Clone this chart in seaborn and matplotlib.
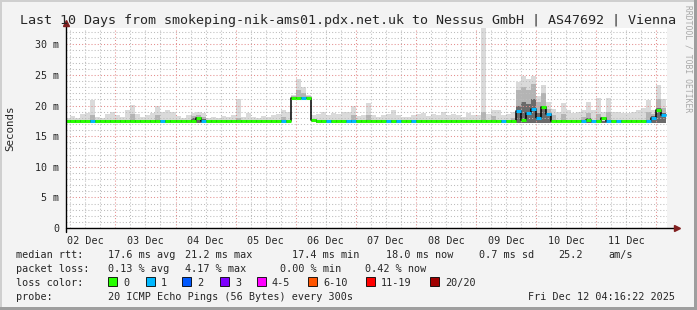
import numpy as np
import pandas as pd
import matplotlib
matplotlib.use("Agg")
import matplotlib.pyplot as plt
from matplotlib.patches import Rectangle
from matplotlib.ticker import MultipleLocator
import seaborn as sns

# ------------------------------------------------------------------ data
title = "Last 10 Days from smokeping-nik-ams01.pdx.net.uk to Nessus GmbH | AS47692 | Vienna"
day_labels = ["02 Dec", "03 Dec", "04 Dec", "05 Dec", "06 Dec",
              "07 Dec", "08 Dec", "09 Dec", "10 Dec", "11 Dec"]
y_tick_values = [0, 5, 10, 15, 20, 25, 30]
y_tick_labels = ["0", "5 m", "10 m", "15 m", "20 m", "25 m", "30 m"]

# time base: hours since 02 Dec 00:00; 2-hour samples from 02 Dec 04:00
sample_start_h = 4.0
sample_step_h = 2.0
view_start_h = 4.27      # Dec 2 04:16
view_end_h = 244.27      # Dec 12 04:16
y_top = 32.66

median_ms = [
    17.4, 17.4, 17.4, 17.4, 17.4, 17.4, 17.4, 17.4, 17.4, 17.4,
    17.4, 17.4, 17.4, 17.4, 17.4, 17.4, 17.4, 17.4, 17.4, 17.4, 17.4, 17.4,
    17.4, 17.4, 17.4, 17.4, 17.9, 17.5, 17.4, 17.4, 17.4, 17.4, 17.4, 17.4,
    17.4, 17.4, 17.4, 17.4, 17.4, 17.4, 17.4, 17.4, 17.4, 17.4, 17.4, 21.2,
    21.2, 21.2, 21.2, 17.6, 17.4, 17.4, 17.4, 17.4, 17.4, 17.4, 17.4, 17.4,
    17.4, 17.4, 17.4, 17.4, 17.4, 17.4, 17.4, 17.4, 17.4, 17.4, 17.4, 17.4,
    17.4, 17.4, 17.4, 17.4, 17.4, 17.4, 17.4, 17.4, 17.4, 17.4, 17.4, 17.4,
    17.4, 17.4, 17.4, 17.4, 17.4, 17.4, 17.4, 17.4, 19.1, 17.7, 18.7, 19.5,
    17.9, 19.8, 18.6, 17.4, 17.4, 17.4, 17.4, 17.4, 17.4, 17.4, 17.7, 17.4,
    17.4, 17.9, 17.4, 17.4, 17.4, 17.4, 17.4, 17.4, 17.4, 17.4, 17.4, 18.0,
    19.2, 18.4,
]

loss_count = [
    0, 0, 0, 0, 0, 1, 0, 0, 0, 0,
    0, 0, 0, 0, 0, 0, 0, 0, 0, 1, 0, 0,
    0, 0, 0, 0, 0, 1, 0, 0, 0, 0, 0, 0,
    0, 0, 0, 0, 0, 0, 0, 0, 0, 1, 0, 0,
    0, 1, 0, 0, 0, 0, 1, 0, 0, 0, 1, 1,
    0, 0, 0, 0, 0, 0, 1, 0, 1, 0, 0, 1,
    0, 0, 0, 0, 0, 0, 0, 0, 0, 0, 0, 0,
    0, 0, 0, 0, 0, 1, 0, 0, 1, 0, 1, 1,
    1, 0, 1, 0, 0, 0, 0, 0, 0, 1, 0, 1,
    0, 0, 1, 0, 1, 0, 0, 0, 0, 0, 1, 1,
    0, 1,
]

smoke_lo = [
    17.2, 17.2, 17.2, 17.2, 17.2, 17.2, 17.2, 17.2, 17.2, 17.2,
    17.2, 17.2, 17.2, 17.2, 17.2, 17.2, 17.2, 17.2, 17.2, 17.2, 17.2, 17.2,
    17.2, 17.2, 17.2, 17.2, 17.2, 17.2, 17.2, 17.2, 17.2, 17.2, 17.2, 17.2,
    17.2, 17.2, 17.2, 17.2, 17.2, 17.2, 17.2, 17.2, 17.2, 17.2, 17.2, 21.0,
    21.0, 21.0, 21.0, 17.3, 17.2, 17.2, 17.2, 17.2, 17.2, 17.2, 17.2, 17.2,
    17.2, 17.2, 17.2, 17.2, 17.2, 17.2, 17.2, 17.2, 17.2, 17.2, 17.2, 17.2,
    17.2, 17.2, 17.2, 17.2, 17.2, 17.2, 17.2, 17.2, 17.2, 17.2, 17.2, 17.2,
    17.2, 17.2, 17.2, 17.2, 17.2, 17.2, 17.2, 17.2, 17.2, 17.2, 17.2, 17.2,
    17.2, 17.2, 17.2, 17.2, 17.2, 17.2, 17.2, 17.2, 17.2, 17.2, 17.2, 17.2,
    17.2, 17.2, 17.2, 17.2, 17.2, 17.2, 17.2, 17.2, 17.2, 17.2, 17.2, 17.2,
    17.2, 17.2,
]

smoke_core = [
    17.4, 17.4, 17.4, 17.4, 17.4, 17.4, 17.4, 17.4, 17.4, 17.4,
    17.4, 17.4, 17.4, 17.4, 17.4, 17.4, 17.4, 17.4, 17.4, 17.4, 17.4, 17.4,
    17.4, 17.4, 17.4, 17.9, 18.2, 17.8, 17.4, 17.4, 17.4, 17.4, 17.4, 17.4,
    17.4, 17.4, 17.4, 17.4, 17.4, 17.4, 17.4, 17.4, 17.4, 17.4, 17.4, 21.3,
    21.3, 21.3, 21.3, 17.6, 17.4, 17.4, 17.4, 17.4, 17.4, 17.4, 17.4, 17.4,
    17.4, 17.4, 17.4, 17.4, 17.4, 17.4, 17.4, 17.4, 17.4, 17.4, 17.4, 17.4,
    17.4, 17.4, 17.4, 17.4, 17.4, 17.4, 17.4, 17.4, 17.4, 17.4, 17.4, 17.4,
    17.4, 17.4, 17.4, 17.4, 17.4, 17.4, 17.4, 17.4, 20.0, 20.5, 20.3, 21.0,
    18.8, 20.0, 18.6, 17.4, 17.4, 17.4, 17.4, 17.4, 17.4, 17.4, 18.0, 17.4,
    17.4, 17.4, 17.4, 17.4, 17.4, 17.4, 17.4, 17.4, 17.4, 17.4, 17.4, 18.3,
    19.6, 18.8,
]

smoke_mid = [
    17.5, 17.5, 17.5, 17.5, 17.5, 18.5, 17.5, 17.5, 17.5, 17.5,
    17.5, 17.5, 17.5, 18.6, 17.5, 17.5, 17.5, 17.5, 18.5, 17.5, 17.5, 17.5,
    17.5, 17.5, 17.5, 18.3, 18.5, 18.2, 17.5, 17.5, 17.5, 17.5, 17.5, 17.5,
    18.0, 17.5, 17.5, 17.5, 17.5, 17.5, 17.5, 17.5, 17.5, 18.2, 17.5, 21.5,
    22.5, 22.0, 21.5, 17.8, 17.5, 17.5, 17.5, 17.5, 17.5, 17.5, 17.5, 18.5,
    17.5, 17.5, 18.5, 17.5, 17.5, 17.5, 17.5, 17.5, 17.5, 17.5, 17.5, 17.5,
    17.5, 17.5, 17.5, 17.5, 17.5, 17.5, 17.5, 17.5, 17.5, 17.5, 17.5, 17.5,
    17.5, 19.0, 17.5, 18.3, 17.5, 17.5, 17.5, 18.0, 22.5, 23.0, 22.5, 23.5,
    20.5, 22.0, 19.5, 18.5, 17.5, 18.6, 17.5, 17.5, 17.5, 18.2, 18.7, 17.5,
    18.6, 17.5, 19.0, 17.5, 17.5, 17.5, 17.5, 17.5, 17.5, 17.5, 19.0, 18.6,
    21.0, 19.6,
]

smoke_hi = [
    18.0, 18.3, 18.0, 18.6, 18.8, 20.9, 18.2, 18.0, 18.6, 18.9,
    18.5, 18.2, 19.3, 20.1, 18.6, 18.2, 18.4, 18.8, 20.0, 19.0, 19.3, 18.9,
    18.3, 18.0, 18.4, 18.8, 18.9, 18.7, 18.0, 18.2, 18.0, 18.3, 18.1, 18.4,
    21.0, 18.2, 18.7, 18.1, 18.0, 18.3, 18.2, 18.4, 18.6, 19.3, 19.0, 21.8,
    24.3, 23.0, 21.8, 18.5, 18.6, 18.9, 18.4, 18.7, 18.6, 18.9, 18.9, 20.0,
    18.3, 18.4, 20.4, 18.5, 18.2, 18.5, 18.6, 19.3, 18.5, 18.2, 18.2, 18.4,
    18.6, 18.8, 18.3, 18.6, 18.4, 18.9, 18.5, 18.6, 18.5, 18.2, 18.8, 18.4,
    18.5, 33.0, 18.6, 19.3, 19.3, 18.4, 18.6, 18.9, 23.8, 24.8, 24.4, 24.8,
    21.5, 23.3, 20.5, 19.5, 18.9, 20.4, 19.2, 18.8, 18.9, 19.2, 20.6, 19.3,
    21.2, 19.0, 21.2, 19.0, 19.0, 18.8, 18.8, 19.0, 19.2, 19.6, 20.9, 19.2,
    23.4, 21.0,
]

loss_legend_labels = ["0", "1", "2", "3", "4-5", "6-10", "11-19", "20/20"]
loss_legend_colors = ["#26ff00", "#00b8ff", "#0059ff", "#7e00ff",
                      "#ff00ff", "#ff5500", "#ff0000", "#a00000"]

stats_rtt = ["17.6 ms avg", "21.2 ms max", "17.4 ms min", "18.0 ms now",
             "0.7 ms sd", "25.2", "am/s"]
stats_loss = ["0.13 % avg", "4.17 % max", "0.00 % min", "0.42 % now"]
probe_text = "20 ICMP Echo Pings (56 Bytes) every 300s"
stamp_text = "Fri Dec 12 04:16:22 2025"

# ------------------------------------------------------------------ style
W, H = 697, 310
sns.set_style("white")
MONO = ["DejaVu Sans Mono", "DejaVu Sans"]
plt.rcParams["font.family"] = MONO

BACK = "#f3f3f3"
fig = plt.figure(figsize=(W / 100, H / 100), dpi=100, facecolor=BACK)

X0, X1, Y0, Y1 = 66, 667, 28, 228   # plot area in pixels
ax = fig.add_axes([X0 / W, 1 - Y1 / H, (X1 - X0) / W, (Y1 - Y0) / H])
ax.set_facecolor("white")


def px(x, y):
    return x / W, 1 - y / H


def ftext(x, y, s, **kw):
    kw.setdefault("fontsize", 7.3)
    kw.setdefault("va", "baseline")
    kw.setdefault("ha", "left")
    fig.text(*px(x, y), s, **kw)


n = len(median_ms)
t = sample_start_h + sample_step_h * np.arange(n)
t_edges = np.append(t, t[-1] + sample_step_h)


def ext(a):
    a = list(a)
    return np.array(a + [a[-1]])


# smoke layers
ax.fill_between(t_edges, ext(smoke_lo), ext(smoke_hi), step="post",
                color="#dadada", lw=0, zorder=1)
ax.fill_between(t_edges, ext(smoke_lo), ext(smoke_mid), step="post",
                color="#b4b4b4", lw=0, zorder=1.1)
ax.fill_between(t_edges, ext(smoke_lo), ext(smoke_core), step="post",
                color="#6a6a6a", lw=0, zorder=1.2)

# median (black step line + loss coloured segments)
df = pd.DataFrame({"t": t_edges, "median": ext(median_ms)})
sns.lineplot(data=df, x="t", y="median", drawstyle="steps-post",
             color="black", lw=1.1, ax=ax, estimator=None, zorder=3)


def loss_col(c):
    if c <= 0:
        return loss_legend_colors[0]
    if c == 1:
        return loss_legend_colors[1]
    if c == 2:
        return loss_legend_colors[2]
    if c == 3:
        return loss_legend_colors[3]
    if c <= 5:
        return loss_legend_colors[4]
    if c <= 10:
        return loss_legend_colors[5]
    if c <= 19:
        return loss_legend_colors[6]
    return loss_legend_colors[7]


ax.hlines(median_ms, t, t + sample_step_h,
          colors=[loss_col(c) for c in loss_count], lw=2.2, zorder=4)

# axes limits / grid
ax.set_xlim(view_start_h, view_end_h)
ax.set_ylim(0, y_top)
ax.set_xlabel("")
ax.set_ylabel("")
ax.xaxis.set_major_locator(MultipleLocator(24))
ax.xaxis.set_minor_locator(MultipleLocator(6))
ax.set_yticks(y_tick_values)
ax.set_yticklabels(y_tick_labels)
ax.yaxis.set_minor_locator(MultipleLocator(1))
ax.tick_params(axis="x", which="both", length=0, labelbottom=False)
ax.tick_params(axis="y", which="major", length=2.5, width=0.7, color="#303030",
               labelsize=7.2, pad=2.2, direction="out")
ax.tick_params(axis="y", which="minor", length=1.5, width=0.6, color="#909090",
               direction="out")
dots = (0, (1, 2))
ax.grid(which="minor", color="#bcbcbc", ls=dots, lw=0.75)
ax.grid(which="major", color="#e48e8e", ls=dots, lw=0.75)
ax.set_axisbelow("line")
for s in ax.spines.values():
    s.set_visible(False)

# axis lines with arrows
ARROW = "#801f1f"
ax.plot([0, 1.012], [0, 0], transform=ax.transAxes, color="black", lw=1.0,
        clip_on=False, zorder=6)
ax.plot([0, 0], [-0.02, 1.02], transform=ax.transAxes, color="black", lw=1.0,
        clip_on=False, zorder=6)
ax.plot([1.016], [0], transform=ax.transAxes, marker=">", ms=5, color=ARROW,
        clip_on=False, zorder=7)
ax.plot([0], [1.025], transform=ax.transAxes, marker="^", ms=5, color=ARROW,
        clip_on=False, zorder=7)

# day labels at noon of each day
for k, lab in enumerate(day_labels):
    ax.text(12 + 24 * k, -0.065, lab, transform=ax.get_xaxis_transform(),
            ha="center", va="center", fontsize=7.3)

# title, y label, side text
ftext(348, 24, title, ha="center", fontsize=9.6)
fig.text(*px(10, 128), "Seconds", rotation=90, ha="center", va="center",
         fontsize=7.8)
fig.text(*px(688, 5), "RRDTOOL / TOBI OETIKER", rotation=270, ha="center",
         va="top", fontsize=5.8, color="#a8a8a8")

# legend rows
ftext(16, 257.7, "median rtt:")
for xx, s in zip([108, 185, 292, 386, 479, 558, 608], stats_rtt):
    ftext(xx, 257.7, s)
ftext(16, 271.7, "packet loss:")
for xx, s in zip([108, 185, 280, 365], stats_loss):
    ftext(xx, 271.7, s)
ftext(16, 285.7, "loss color:")
sq_x = [108, 146, 182, 220, 257, 308, 366, 430]
for xx, c, lab in zip(sq_x, loss_legend_colors, loss_legend_labels):
    fig.patches.append(Rectangle(px(xx, 286), 9 / W, 9 / H, transform=fig.transFigure,
                                 facecolor=c, edgecolor="black", lw=0.6))
    ftext(xx + 15, 285.7, lab)
ftext(16, 299.7, "probe:")
ftext(108, 299.7, probe_text)
ftext(675, 299.7, stamp_text, ha="right")

# frame shading
for (x, y, w, h, c) in [(0, 0, W, 2, "#cfcfcf"), (0, 0, 2, H, "#cfcfcf"),
                        (W - 3, 0, 3, H, "#9e9e9e"), (0, H - 3, W, 3, "#9e9e9e")]:
    fig.patches.append(Rectangle(px(x, y + h), w / W, h / H,
                                 transform=fig.transFigure, facecolor=c, lw=0))

fig.savefig("out.png", dpi=100, facecolor=BACK)
